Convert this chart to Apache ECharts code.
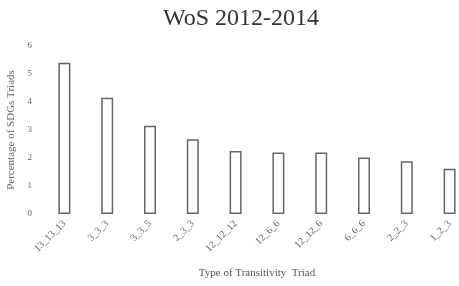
<!DOCTYPE html>
<html>
<head>
<meta charset="utf-8">
<script src="https://cdn.jsdelivr.net/npm/echarts@6/dist/echarts.min.js"></script>
<style>
  html, body { margin: 0; padding: 0; background: #fff; }
  #chart { width: 459px; height: 286px; }
</style>
</head>
<body>
<div id="chart"></div>
<script>
const triadTypes = ['13_13_13', '3_3_3', '3_3_5', '2_3_3', '12_12_12', '12_6_6', '12_12_6', '6_6_6', '2_2_3', '1_2_3'];
const percentages = [5.4, 4.15, 3.15, 2.67, 2.25, 2.2, 2.2, 2.02, 1.88, 1.62];
const yTicks = [0, 1, 2, 3, 4, 5, 6];

const chart = echarts.init(document.getElementById('chart'));
const serif = '"Liberation Serif", "DejaVu Serif", serif';

chart.setOption({
  animation: false,
  title: {
    text: 'WoS 2012-2014',
    left: 158,
    top: 2,
    textStyle: { fontFamily: serif, fontSize: 24, fontWeight: 'normal', color: '#333' }
  },
  // grid runs past the right edge like in the source image
  grid: { left: 43, top: 46, width: 428, height: 168, outerBoundsMode: 'none' },
  xAxis: {
    type: 'category',
    data: triadTypes,
    axisLine: { show: false },
    axisTick: { show: false },
    axisLabel: { rotate: 45, margin: 8, fontFamily: serif, fontSize: 10, color: '#666', interval: 0 },
    name: 'Type of Transitivity  Triad',
    nameLocation: 'middle',
    nameGap: 54,
    nameTextStyle: { fontFamily: serif, fontSize: 11, color: '#555' }
  },
  yAxis: {
    type: 'value',
    min: yTicks[0],
    max: yTicks[yTicks.length - 1],
    interval: 1,
    splitLine: { show: false },
    axisLine: { show: false },
    axisTick: { show: false },
    axisLabel: { margin: 11, fontFamily: serif, fontSize: 9, color: '#666' },
    name: 'Percentage of SDGs Triads',
    nameLocation: 'middle',
    nameGap: 18,
    nameTextStyle: { fontFamily: serif, fontSize: 11, color: '#666' }
  },
  series: [{
    type: 'bar',
    data: percentages,
    barWidth: 12,
    itemStyle: { color: '#fff', borderColor: '#666', borderWidth: 1.5 }
  }]
});
</script>
</body>
</html>
